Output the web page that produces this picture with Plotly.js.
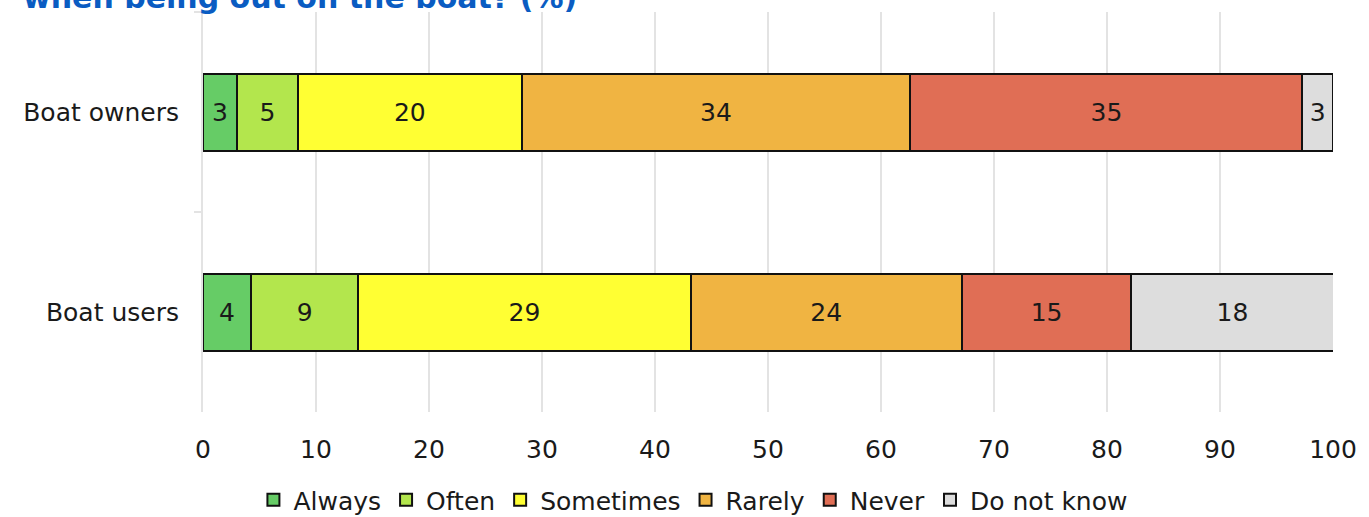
<!DOCTYPE html>
<html>
<head>
<meta charset="utf-8">
<script src="https://cdn.plot.ly/plotly-3.0.1.min.js"></script>
<style>html,body{margin:0;padding:0;background:#fff;}#chart{width:1369px;height:517px;}</style>
</head>
<body>
<div id="chart"></div>
<script>
const groups = ["Boat owners", "Boat users"];
const seriesNames = ["Always", "Often", "Sometimes", "Rarely", "Never", "Do not know"];
const always    = [3.0, 4.25];
const often     = [5.4, 9.5];
const sometimes = [19.8, 29.4];
const rarely    = [34.4, 24.0];
const never     = [34.7, 15.0];
const dontKnow  = [2.7, 17.9];
const labelsAlways    = ["3", "4"];
const labelsOften     = ["5", "9"];
const labelsSometimes = ["20", "29"];
const labelsRarely    = ["34", "24"];
const labelsNever     = ["35", "15"];
const labelsDontKnow  = ["3", "18"];
const xTicks = [0, 10, 20, 30, 40, 50, 60, 70, 80, 90, 100];
const titleText = "when being out on the boat? (%)";

const colors = ["#66cc66", "#b3e64d", "#ffff33", "#f0b442", "#e06e55", "#dddddd"];
const values = [always, often, sometimes, rarely, never, dontKnow];
const labels = [labelsAlways, labelsOften, labelsSometimes, labelsRarely, labelsNever, labelsDontKnow];
const FONT = "DejaVu Sans, sans-serif";
const FS = 25;

const traces = seriesNames.map((name, i) => ({
  type: "bar",
  orientation: "h",
  name: name,
  y: groups,
  x: values[i],
  text: labels[i],
  texttemplate: "%{text}",
  textposition: "inside",
  insidetextanchor: "middle",
  textangle: 0,
  constraintext: "none",
  insidetextfont: {family: FONT, size: FS, color: "#1a1a1a"},
  marker: {color: colors[i], line: {color: "#111111", width: 2}},
  width: 0.385,
  hoverinfo: "skip"
}));

const layout = {
  width: 1369,
  height: 517,
  barmode: "stack",
  paper_bgcolor: "#ffffff",
  plot_bgcolor: "#ffffff",
  margin: {l: 203, r: 36, t: 12, b: 105, pad: 0, autoexpand: false},
  xaxis: {
    range: [0, 100],
    tickvals: xTicks,
    ticktext: xTicks.map(String),
    showgrid: true,
    gridcolor: "#e3e3e3",
    gridwidth: 2,
    zeroline: false,
    showline: false,
    ticks: "",
    ticklabelstandoff: 20,
    tickfont: {family: FONT, size: FS, color: "#1a1a1a"},
    automargin: false,
    fixedrange: true
  },
  yaxis: {
    type: "category",
    autorange: "reversed",
    showgrid: false,
    zeroline: false,
    showline: true,
    linecolor: "#e3e3e3",
    linewidth: 2,
    ticks: "outside",
    tickson: "boundaries",
    ticklen: 7,
    tickcolor: "#e3e3e3",
    tickwidth: 2,
    ticklabelstandoff: 17,
    tickfont: {family: FONT, size: FS, color: "#1a1a1a"},
    automargin: false,
    fixedrange: true
  },
  annotations: [{
    text: "<b>" + titleText + "</b>",
    xref: "paper", yref: "paper",
    x: -182 / 1130, xanchor: "left",
    y: 0.9875, yanchor: "bottom",
    showarrow: false,
    font: {family: FONT, size: 30, color: "#0a5cc2"}
  }],
  showlegend: true,
  legend: {
    orientation: "h",
    x: 0.434, xanchor: "center",
    y: -0.22, yanchor: "middle",
    font: {family: FONT, size: FS, color: "#1a1a1a"},
    itemwidth: 30,
    traceorder: "normal",
    bgcolor: "rgba(0,0,0,0)"
  }
};

Plotly.newPlot("chart", traces, layout, {displayModeBar: false, staticPlot: true});
</script>
</body>
</html>
